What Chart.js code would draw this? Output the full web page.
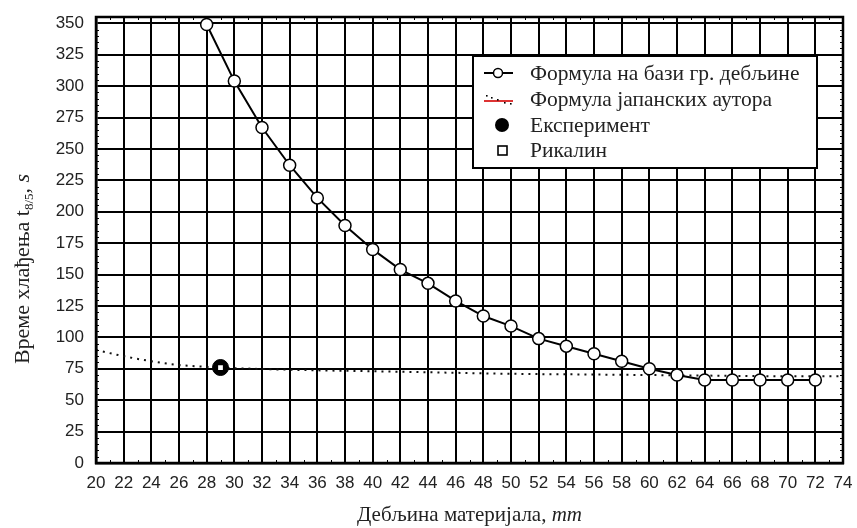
<!DOCTYPE html>
<html>
<head>
<meta charset="utf-8">
<script src="https://cdn.jsdelivr.net/npm/chart.js@4.4.1/dist/chart.umd.min.js"></script>
<style>
  html, body { margin: 0; padding: 0; background: #fff; }
  #wrap { width: 857px; height: 528px; }
</style>
</head>
<body>
<div id="wrap"><canvas id="cooling-chart" width="857" height="528"></canvas></div>
<script>
// thickness (mm) and cooling time t8/5 (s)
const thickness = [28, 30, 32, 34, 36, 38, 40, 42, 44, 46, 48, 50, 52, 54, 56, 58, 60, 62, 64, 66, 68, 70, 72];
const formulaTime = [349, 304, 267, 237, 211, 189, 170, 154, 143, 129, 117, 109, 99, 93, 87, 81, 75, 70, 66, 66, 66, 66, 66];

const japanX = [20, 22, 24, 26, 28, 30, 35, 40, 45, 50, 55, 60, 65, 70, 74];
const japanTime = [90, 85, 81, 78, 76.5, 75.5, 74, 73, 72, 71, 70.5, 70, 69.5, 69, 69];

const experimentX = [29];
const experimentTime = [76];
const rikalinX = [29];
const rikalinTime = [76];

const xTicks = [20, 22, 24, 26, 28, 30, 32, 34, 36, 38, 40, 42, 44, 46, 48, 50, 52, 54, 56, 58, 60, 62, 64, 66, 68, 70, 72, 74];
const yTicks = [0, 25, 50, 75, 100, 125, 150, 175, 200, 225, 250, 275, 300, 325, 350];

const legendLabels = ['Формула на бази гр. дебљине', 'Формула јапанских аутора', 'Експеримент', 'Рикалин'];
const xTitle = ['Дебљина материјала, ', 'mm'];
const yTitle = ['Време хлађења t', '8/5', ', ', 's'];

function pairs(xs, ys){
    return xs.map((x, i) => ({x: x, y: ys[i]}));
}

const serif = '"Liberation Serif", "DejaVu Serif", serif';

// frame, minor ticks, axis titles and the boxed legend
const decorations = {
    id: 'decorations',
    afterDraw(chart){
        const ctx = chart.ctx;
        const a = chart.chartArea;
        const xs = chart.scales.x, ys = chart.scales.y;
        ctx.save();

        // small inner ticks
        ctx.strokeStyle = '#000';
        ctx.lineWidth = 1;
        ctx.beginPath();
        for (let v = 5; v < 355; v += 5){
            if (v % 25 === 0) continue;
            const y = Math.round(ys.getPixelForValue(v)) + 0.5;
            ctx.moveTo(a.left, y); ctx.lineTo(a.left + 3, y);
            ctx.moveTo(a.right, y); ctx.lineTo(a.right - 3, y);
        }
        for (let v = 21; v < 74; v += 2){
            const x = Math.round(xs.getPixelForValue(v)) + 0.5;
            ctx.moveTo(x, a.top); ctx.lineTo(x, a.top + 3);
            ctx.moveTo(x, a.bottom); ctx.lineTo(x, a.bottom - 3);
        }
        ctx.stroke();

        // frame
        ctx.lineWidth = 2.5;
        ctx.strokeRect(a.left, a.top, a.right - a.left, a.bottom - a.top);

        // x title
        ctx.fillStyle = '#222';
        ctx.textBaseline = 'alphabetic';
        ctx.font = '21px ' + serif;
        const w1 = ctx.measureText(xTitle[0]).width;
        ctx.font = 'italic 21px ' + serif;
        const w2 = ctx.measureText(xTitle[1]).width;
        let tx = (a.left + a.right) / 2 - (w1 + w2) / 2;
        ctx.font = '21px ' + serif;
        ctx.fillText(xTitle[0], tx, 521);
        ctx.font = 'italic 21px ' + serif;
        ctx.fillText(xTitle[1], tx + w1, 521);

        // y title, rotated, with subscript
        ctx.save();
        ctx.translate(29, 269);
        ctx.rotate(-Math.PI / 2);
        const fonts = ['22px ' + serif, '13px ' + serif, '22px ' + serif, 'italic 22px ' + serif];
        const shifts = [0, 4, 0, 0];
        let widths = yTitle.map((s, i) => { ctx.font = fonts[i]; return ctx.measureText(s).width; });
        let total = widths.reduce((p, c) => p + c, 0);
        let px = -total / 2;
        yTitle.forEach((s, i) => {
            ctx.font = fonts[i];
            ctx.fillText(s, px, shifts[i]);
            px += widths[i];
        });
        ctx.restore();

        // legend box
        const bx = 473, by = 56, bw = 344, bh = 112;
        ctx.fillStyle = '#fff';
        ctx.fillRect(bx, by, bw, bh);
        ctx.lineWidth = 2;
        ctx.strokeStyle = '#000';
        ctx.strokeRect(bx, by, bw, bh);

        const rows = [73, 99, 125, 150];
        ctx.font = '21.5px ' + serif;
        ctx.fillStyle = '#222';
        ctx.textBaseline = 'middle';
        legendLabels.forEach((t, i) => ctx.fillText(t, 530, rows[i] + 1));

        // line with hollow circle
        ctx.lineWidth = 2;
        ctx.beginPath();
        ctx.moveTo(484, rows[0]); ctx.lineTo(513, rows[0]);
        ctx.stroke();
        ctx.beginPath();
        ctx.arc(498, rows[0], 4.5, 0, Math.PI * 2);
        ctx.fillStyle = '#fff'; ctx.fill();
        ctx.lineWidth = 1.5; ctx.stroke();

        // red line with scattered dots
        ctx.strokeStyle = '#d33';
        ctx.lineWidth = 2;
        ctx.beginPath();
        ctx.moveTo(484, rows[1] + 2); ctx.lineTo(513, rows[1] + 2);
        ctx.stroke();
        ctx.fillStyle = '#000';
        [[486, rows[1] - 4], [491, rows[1] - 2], [497, rows[1]], [504, rows[1] + 3], [510, rows[1] + 4]].forEach(p => {
            ctx.fillRect(p[0], p[1], 1.6, 1.6);
        });

        // filled circle
        ctx.beginPath();
        ctx.arc(502, rows[2], 7, 0, Math.PI * 2);
        ctx.fillStyle = '#000'; ctx.fill();

        // hollow square
        ctx.strokeStyle = '#000';
        ctx.lineWidth = 1.6;
        ctx.fillStyle = '#fff';
        ctx.fillRect(498, rows[3] - 4, 9, 9);
        ctx.strokeRect(498, rows[3] - 4, 9, 9);

        ctx.restore();
    }
};

let ctx = document.getElementById('cooling-chart').getContext('2d');

let chart = new Chart(ctx, {
    type: 'scatter',
    data: {
        datasets: [
            {
                label: legendLabels[3],
                data: pairs(rikalinX, rikalinTime),
                pointStyle: 'rect',
                pointRadius: 4.5,
                pointBackgroundColor: '#fff',
                pointBorderColor: '#000',
                pointBorderWidth: 1.6,
                order: 0
            },
            {
                label: legendLabels[2],
                data: pairs(experimentX, experimentTime),
                pointRadius: 8,
                pointBackgroundColor: '#000',
                pointBorderColor: '#000',
                order: 1
            },
            {
                label: legendLabels[0],
                data: pairs(thickness, formulaTime),
                showLine: true,
                borderColor: '#000',
                borderWidth: 2,
                pointRadius: 6,
                pointBackgroundColor: '#fff',
                pointBorderColor: '#000',
                pointBorderWidth: 1.5,
                order: 2
            },
            {
                label: legendLabels[1],
                data: pairs(japanX, japanTime),
                showLine: true,
                cubicInterpolationMode: 'monotone',
                borderColor: '#111',
                borderWidth: 2,
                borderDash: [2, 5],
                pointRadius: 0,
                order: 3
            }
        ]
    },
    options: {
        responsive: false,
        animation: false,
        layout: { padding: { top: 17, right: 14, left: 0, bottom: 0 } },
        plugins: {
            legend: { display: false },
            tooltip: { enabled: false }
        },
        scales: {
            x: {
                type: 'linear',
                min: 20,
                max: 74,
                afterFit: (s) => { s.height = 65; s.paddingLeft = 0; s.paddingRight = 0; },
                afterBuildTicks: (s) => { s.ticks = xTicks.map(v => ({value: v})); },
                ticks: {
                    color: '#222',
                    padding: 10,
                    font: { family: '"Liberation Sans", Arial, sans-serif', size: 17 },
                    maxRotation: 0,
                    autoSkip: false
                },
                grid: { color: '#000', lineWidth: 2, drawTicks: false },
                border: { color: '#000', width: 2.5 }
            },
            y: {
                min: 0,
                max: 355,
                afterFit: (s) => { s.width = 96; s.paddingTop = 0; s.paddingBottom = 0; },
                afterBuildTicks: (s) => { s.ticks = yTicks.map(v => ({value: v})); },
                ticks: {
                    color: '#222',
                    padding: 12,
                    autoSkip: false,
                    font: { family: '"Liberation Sans", Arial, sans-serif', size: 17 }
                },
                grid: { color: '#000', lineWidth: 2, drawTicks: false },
                border: { color: '#000', width: 2.5 }
            }
        }
    },
    plugins: [decorations]
});
</script>
</body>
</html>
